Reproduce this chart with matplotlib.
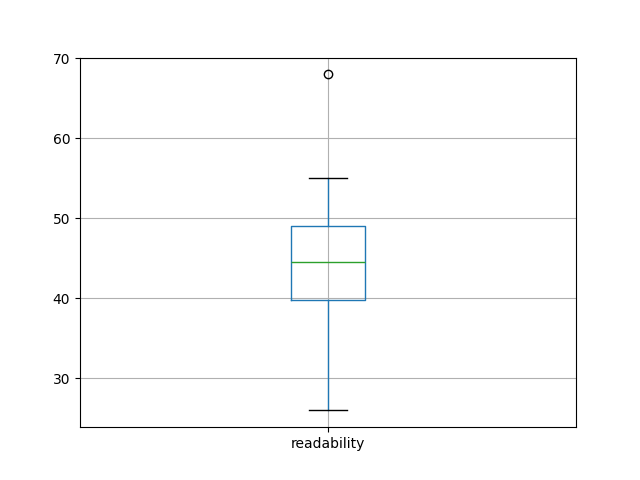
import matplotlib
matplotlib.use("Agg")
import matplotlib.pyplot as plt

# box statistics
label = "readability"
whisker_low = 26
q1 = 39.75
median = 44.5
q3 = 49
whisker_high = 55
outliers = [68]

stats = [{
    "label": label,
    "whislo": whisker_low,
    "q1": q1,
    "med": median,
    "q3": q3,
    "whishi": whisker_high,
    "fliers": outliers,
}]

fig, ax = plt.subplots(figsize=(6.4, 4.8), dpi=100)
ax.bxp(stats,
       boxprops=dict(color="C0"),
       whiskerprops=dict(color="C0"),
       medianprops=dict(color="C2"),
       capprops=dict(color="k"))
ax.grid(True)
ax.set_axisbelow(True)
fig.savefig("out.png")
